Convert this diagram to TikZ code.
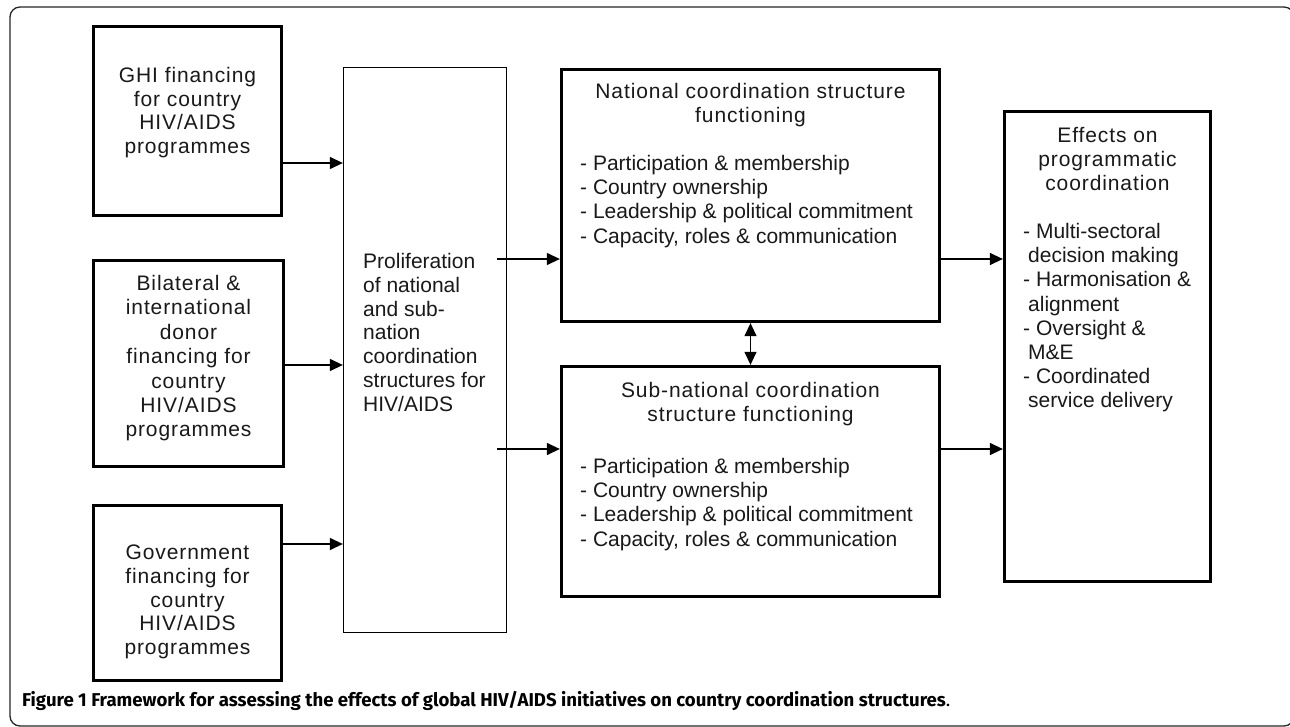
\documentclass[tikz,border=0pt]{standalone}
\usepackage{fontspec}
\setmainfont{Liberation Sans}
\newfontfamily\spaced[LetterSpace=4.3]{Liberation Sans}
\newfontfamily\capfont{Fira Sans}
\usetikzlibrary{arrows.meta}
\begin{document}
\begin{tikzpicture}[x=1pt,y=-1pt,
  thickbox/.style={draw, line width=3.3pt, inner sep=0pt},
  thinbox/.style={draw, line width=1.3pt, inner sep=0pt},
  sptext/.style={inner sep=0pt, align=center, font=\spaced\fontsize{21}{23.6}\selectfont, text=black!90},
  listtext/.style={inner sep=0pt, align=left, font=\fontsize{21}{24.2}\selectfont, text=black!90},
  arr/.style={line width=1.3pt, -{Triangle[length=13pt,width=12pt]}},
  darr/.style={line width=1.3pt, {Triangle[length=13pt,width=12pt]}-{Triangle[length=13pt,width=12pt]}}
]
\useasboundingbox (0,0) rectangle (1290,727);
\fill[white] (0,0) rectangle (1290,727);
% outer frame
\draw[line width=1.3pt, black!85, rounded corners=10pt] (10,7) rectangle (1294,726);

% boxes
\node[thickbox, minimum width=188pt, minimum height=189pt] (ghi) at (187.5,121) {};
\node[thickbox, minimum width=190pt, minimum height=206pt] (bil) at (188.5,363.5) {};
\node[thickbox, minimum width=188pt, minimum height=175pt] (gov) at (187.5,593) {};
\node[thinbox, minimum width=163pt, minimum height=565pt] (prol) at (425,350) {};
\node[thickbox, minimum width=378pt, minimum height=252pt] (nat) at (750.5,195.5) {};
\node[thickbox, minimum width=378pt, minimum height=230pt] (sub) at (750.5,481.5) {};
\node[thickbox, minimum width=206pt, minimum height=470pt] (eff) at (1107.5,346.5) {};

% texts
\node[sptext, anchor=north] (ghiT) at (187.5,67) {GHI financing\\for country\\HIV/AIDS\\programmes};
\node[sptext, anchor=north, font=\spaced\fontsize{21}{24.4}\selectfont] (bilT) at (188.5,275) {Bilateral \&\\international\\donor\\financing for\\country\\HIV/AIDS\\programmes};
\node[sptext, anchor=north] (govT) at (187.5,545) {Government\\financing for\\country\\HIV/AIDS\\programmes};
\node[listtext, anchor=north west, font=\fontsize{21}{23.8}\selectfont] (prolT) at (363,253) {Proliferation\\of national\\and sub-\\nation\\coordination\\structures for\\HIV/AIDS};
\node[sptext, anchor=north, font=\spaced\fontsize{21}{24.2}\selectfont] (natT) at (750.5,83) {National coordination structure\\functioning};
\node[listtext, anchor=north west] (natL) at (580,155) {- Participation \& membership\\- Country ownership\\- Leadership \& political commitment\\- Capacity, roles \& communication};
\node[sptext, anchor=north, font=\spaced\fontsize{21}{24.2}\selectfont] (subT) at (750.5,382) {Sub-national coordination\\structure functioning};
\node[listtext, anchor=north west] (subL) at (580,458) {- Participation \& membership\\- Country ownership\\- Leadership \& political commitment\\- Capacity, roles \& communication};
\node[sptext, anchor=north, font=\spaced\fontsize{21}{24.2}\selectfont] (effT) at (1107.5,127) {Effects on\\programmatic\\coordination};
\node[listtext, anchor=north west] (effL) at (1023,223) {- Multi-sectoral\\\hspace*{5pt}decision making\\- Harmonisation \&\\\hspace*{5pt}alignment\\- Oversight \&\\\hspace*{5pt}M\&E\\- Coordinated\\\hspace*{5pt}service delivery};

% caption
\node[inner sep=0pt, anchor=base west, font=\capfont\fontsize{18.6}{22}\selectfont] (cap) at (22,706) {\textbf{Figure 1 Framework for assessing the effects of global HIV/AIDS initiatives on country coordination structures}.};

% connectors
\draw[arr] (ghi.east |- 0,163) -- (prol.west |- 0,163);
\draw[arr] (bil.east |- 0,365) -- (prol.west |- 0,365);
\draw[arr] (gov.east |- 0,544) -- (prol.west |- 0,544);
\draw[arr] ([xshift=-10pt]prol.east |- 0,259) -- (nat.west |- 0,259);
\draw[arr] ([xshift=-10pt]prol.east |- 0,449) -- (sub.west |- 0,449);
\draw[arr] (nat.east |- 0,259) -- (eff.west |- 0,259);
\draw[arr] (sub.east |- 0,449) -- (eff.west |- 0,449);
\draw[darr] (nat.south) -- (sub.north);
\end{tikzpicture}
\end{document}
